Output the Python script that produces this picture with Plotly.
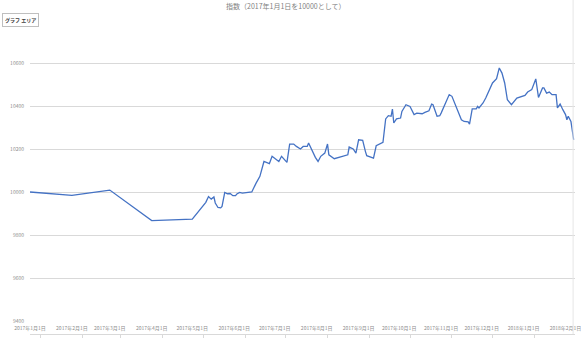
import plotly.graph_objects as go
import pandas as pd

title_text = "指数（2017年1月1日を10000として）"

dates = [
    "2017-01-01", "2017-02-01", "2017-03-01", "2017-04-01", "2017-05-01",
    "2017-05-11", "2017-05-13", "2017-05-15", "2017-05-17", "2017-05-18",
    "2017-05-20", "2017-05-22", "2017-05-23", "2017-05-25", "2017-05-27",
    "2017-05-29", "2017-05-31", "2017-06-02", "2017-06-03", "2017-06-05",
    "2017-06-07", "2017-06-14", "2017-06-17", "2017-06-20", "2017-06-23",
    "2017-06-25", "2017-06-27", "2017-06-29", "2017-07-01", "2017-07-04",
    "2017-07-06", "2017-07-08", "2017-07-10", "2017-07-12", "2017-07-15",
    "2017-07-17", "2017-07-20", "2017-07-22", "2017-07-25", "2017-07-26",
    "2017-07-27", "2017-07-29", "2017-07-31", "2017-08-02", "2017-08-04",
    "2017-08-07", "2017-08-09", "2017-08-10", "2017-08-14", "2017-08-24",
    "2017-08-25", "2017-08-28", "2017-08-30", "2017-09-01", "2017-09-04",
    "2017-09-06", "2017-09-07", "2017-09-12", "2017-09-14", "2017-09-19",
    "2017-09-21", "2017-09-23", "2017-09-25", "2017-09-26", "2017-09-27",
    "2017-09-29", "2017-10-02", "2017-10-03", "2017-10-06", "2017-10-09",
    "2017-10-12", "2017-10-14", "2017-10-18", "2017-10-20", "2017-10-23",
    "2017-10-25", "2017-10-26", "2017-10-29", "2017-10-31", "2017-11-01",
    "2017-11-04", "2017-11-07", "2017-11-09", "2017-11-11", "2017-11-16",
    "2017-11-18", "2017-11-21", "2017-11-22", "2017-11-24", "2017-11-27",
    "2017-11-28", "2017-11-29", "2017-12-02", "2017-12-04", "2017-12-07",
    "2017-12-09", "2017-12-12", "2017-12-13", "2017-12-14", "2017-12-16",
    "2017-12-18", "2017-12-20", "2017-12-21", "2017-12-23", "2017-12-27",
    "2017-12-30", "2018-01-02", "2018-01-04", "2018-01-07", "2018-01-10",
    "2018-01-12", "2018-01-15", "2018-01-16", "2018-01-18", "2018-01-20",
    "2018-01-22", "2018-01-25", "2018-01-26", "2018-01-28", "2018-01-30",
    "2018-02-01", "2018-02-02", "2018-02-03", "2018-02-05", "2018-02-07",
]

index_values = [
    10000, 9984, 10009, 9867, 9874,
    9952, 9979, 9967, 9977, 9949,
    9928, 9926, 9933, 9998, 9992,
    9993, 9983, 9983, 9991, 9998,
    9995, 10000, 10039, 10073, 10142,
    10138, 10132, 10166, 10158, 10142,
    10166, 10153, 10138, 10223, 10223,
    10212, 10200, 10212, 10212, 10228,
    10215, 10181, 10161, 10142, 10166,
    10181, 10223, 10173, 10155, 10173,
    10209, 10200, 10181, 10243, 10240,
    10189, 10169, 10158, 10215, 10231,
    10340, 10355, 10352, 10386, 10321,
    10340, 10344, 10375, 10406, 10398,
    10360, 10367, 10364, 10370, 10378,
    10409, 10406, 10352, 10355, 10367,
    10414, 10453, 10445, 10414, 10336,
    10328, 10326, 10316, 10387, 10387,
    10398, 10391, 10414, 10437, 10476,
    10507, 10527, 10561, 10577, 10553,
    10507, 10429, 10421, 10406, 10437,
    10442, 10449, 10465, 10476, 10526,
    10440, 10484, 10484, 10460, 10465,
    10453, 10453, 10391, 10409, 10383,
    10360, 10336, 10352, 10328, 10243,
]

month_ticks = pd.date_range("2017-01-01", "2018-02-01", freq="MS")
month_labels = [f"{d.year}年{d.month}月{d.day}日" for d in month_ticks]
y_ticks = [9400, 9600, 9800, 10000, 10200, 10400, 10600, 10800]

FONT = "Noto Sans CJK JP"
GRID = "#d9d9d9"
TXT = "#8c8c8c"

fig = go.Figure()
fig.add_trace(go.Scatter(
    x=pd.to_datetime(dates), y=index_values, mode="lines",
    line=dict(color="#4472C4", width=1.3), showlegend=False, hoverinfo="skip",
))

plot_bottom_frac = 13 / 314

fig.update_layout(
    width=581, height=338,
    margin=dict(l=30, r=0, t=20, b=4),
    paper_bgcolor="white", plot_bgcolor="white",
    font=dict(family=FONT, color=TXT, size=5),
    showlegend=False,
    xaxis=dict(
        type="date", range=["2017-01-01", "2018-02-08"],
        tickvals=list(month_ticks), ticktext=month_labels,
        showgrid=False, zeroline=False, showline=False, ticks="",
        tickfont=dict(size=5, color=TXT), ticklabelstandoff=3,
        ticklabeloverflow="allow",
        anchor="y",
    ),
    xaxis2=dict(
        type="date", range=["2017-01-01", "2018-02-08"], overlaying="x",
        anchor="free", position=0, side="bottom",
        tickvals=list(month_ticks + pd.Timedelta(days=8)),
        showticklabels=False, ticks="outside", ticklen=4, tickcolor=GRID,
        showline=True, linecolor=GRID, linewidth=1, showgrid=False, zeroline=False,
    ),
    yaxis=dict(
        domain=[plot_bottom_frac, 1], range=[9400, 10800],
        tickvals=y_ticks, ticktext=[str(v) for v in y_ticks],
        showgrid=True, gridcolor=GRID, gridwidth=1, zeroline=False,
        showline=False, ticks="", tickfont=dict(size=5, color=TXT),
        ticklabelstandoff=5,
    ),
    shapes=[
        dict(type="line", xref="paper", yref="paper", x0=0.9965, x1=0.9965,
             y0=0, y1=1.07, line=dict(color="#e6e6e6", width=1)),
    ],
    annotations=[
        dict(text=title_text, xref="paper", yref="paper", x=0.47, y=1.0,
             yshift=14, xanchor="center", yanchor="middle", showarrow=False,
             font=dict(size=7, color="#7f7f7f", family=FONT)),
        dict(text="<b>グラフ エリア</b>", xref="paper", yref="paper", x=-0.052, y=1.0,
             yshift=0, xanchor="left", yanchor="middle", showarrow=False,
             bgcolor="white", bordercolor="#bfbfbf", borderwidth=1, borderpad=2,
             font=dict(size=5, color="#404040", family=FONT)),
    ],
)

fig.add_trace(go.Scatter(x=[pd.Timestamp("2017-01-01")], y=[None], xaxis="x2",
                         showlegend=False, hoverinfo="skip"))

fig.write_html("out.html")
